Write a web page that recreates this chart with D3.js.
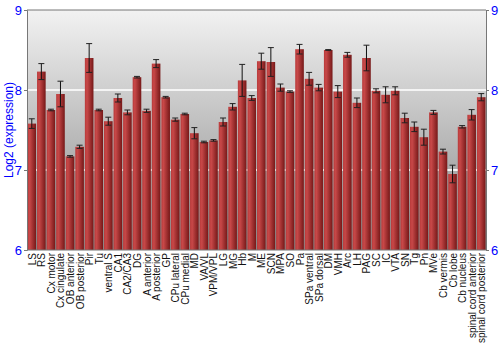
<!DOCTYPE html>
<html>
<head>
<meta charset="utf-8">
<script src="https://cdn.jsdelivr.net/npm/d3@7"></script>
<style>
  body { margin: 0; background: #fff; }
</style>
</head>
<body>
<div id="container"></div>
<script>
let w = 500;
let h = 350;

let regions = ["LS", "RS", "Cx motor", "Cx cingulate", "OB anterior", "OB posterior", "Pir", "Tu",
  "ventral S", "CA1", "CA2/CA3", "DG", "A anterior", "A posterior", "GP", "CPu lateral", "CPu medial",
  "MD", "VA/VL", "VPM/VPL", "LG", "MG", "Hb", "M", "ME", "SCN", "MPA", "SO", "Pa", "SPa ventral",
  "SPa dorsal", "DM", "VMH", "Arc", "LH", "PAG", "SC", "IC", "VTA", "SN", "Tg", "Pn", "MVe",
  "Cb vermis", "Cb lobe", "Cb nucleus", "spinal cord anterior", "spinal cord posterior"];

let expression = [7.58, 8.23, 7.75, 7.95, 7.17, 7.29, 8.40, 7.75,
  7.61, 7.90, 7.72, 8.16, 7.74, 8.33, 7.91, 7.63, 7.70,
  7.46, 7.35, 7.37, 7.60, 7.79, 8.12, 7.90, 8.36, 8.35, 8.03, 7.98, 8.51, 8.14,
  8.03, 8.50, 7.98, 8.44, 7.84, 8.40, 7.99, 7.94, 7.99, 7.65, 7.54, 7.41, 7.72,
  7.23, 6.95, 7.54, 7.69, 7.91];

let errors = [0.06, 0.10, 0.01, 0.16, 0.01, 0.02, 0.18, 0.01,
  0.05, 0.05, 0.03, 0.01, 0.02, 0.05, 0.01, 0.02, 0.01,
  0.07, 0.01, 0.01, 0.05, 0.04, 0.20, 0.03, 0.10, 0.18, 0.045, 0.01, 0.06, 0.08,
  0.04, 0.005, 0.075, 0.03, 0.06, 0.16, 0.025, 0.10, 0.05, 0.06, 0.06, 0.10, 0.025,
  0.03, 0.11, 0.015, 0.065, 0.045];

let yTicks = [6, 7, 8, 9];

let margin = {top: 10, right: 14, bottom: 100, left: 27};

let viz = d3.select("#container").append("svg")
    .attr("width", w)
    .attr("height", h)
    .style("font-family", "Liberation Sans, Arial, sans-serif");

let defs = viz.append("defs");

let bg = defs.append("linearGradient").attr("id", "bg")
    .attr("x1", 0).attr("y1", 0).attr("x2", 0).attr("y2", 1);
bg.append("stop").attr("offset", "0%").attr("stop-color", "#f2f2f2");
bg.append("stop").attr("offset", "100%").attr("stop-color", "#888888");

let barGrad = defs.append("linearGradient").attr("id", "bar")
    .attr("x1", 0).attr("y1", 0).attr("x2", 1).attr("y2", 0);
barGrad.append("stop").attr("offset", "0%").attr("stop-color", "#b83a3a");
barGrad.append("stop").attr("offset", "25%").attr("stop-color", "#c84848");
barGrad.append("stop").attr("offset", "100%").attr("stop-color", "#761818");

let x = d3.scaleBand()
    .domain(regions)
    .range([margin.left, w - margin.right])
    .paddingInner(0.1)
    .paddingOuter(0.05);

let y = d3.scaleLinear()
    .domain([6, 9])
    .range([h - margin.bottom, margin.top]);

// plot background
viz.append("rect")
    .attr("x", margin.left)
    .attr("y", y(9))
    .attr("width", w - margin.right - margin.left)
    .attr("height", y(6) - y(9))
    .attr("fill", "url(#bg)");

// grid lines
viz.selectAll(".grid").data([7, 8]).enter()
  .append("line")
    .attr("class", "grid")
    .attr("x1", margin.left)
    .attr("x2", w - margin.right)
    .attr("y1", d => y(d))
    .attr("y2", d => y(d))
    .attr("stroke", "#f4f4f4")
    .attr("stroke-width", 2);

// bars
viz.selectAll(".bar").data(regions).enter()
  .append("rect")
    .attr("class", "bar")
    .attr("x", d => x(d))
    .attr("width", x.bandwidth())
    .attr("y", (d, i) => y(expression[i]))
    .attr("height", (d, i) => y(6) - y(expression[i]))
    .attr("fill", "url(#bar)");

// error bars
let eb = viz.selectAll(".err").data(regions).enter()
  .append("g")
    .attr("class", "err")
    .attr("transform", d => "translate(" + (x(d) + x.bandwidth() / 2) + ",0)");

eb.append("line")
    .attr("y1", (d, i) => y(expression[i] + errors[i]))
    .attr("y2", (d, i) => y(expression[i] - errors[i]))
    .attr("stroke", "#111")
    .attr("stroke-width", 1);

eb.selectAll(".cap")
    .data((d, i) => [expression[i] + errors[i], expression[i] - errors[i]])
    .enter()
  .append("line")
    .attr("class", "cap")
    .attr("x1", -3).attr("x2", 3)
    .attr("y1", d => y(d))
    .attr("y2", d => y(d))
    .attr("stroke", "#222")
    .attr("stroke-width", 1);

// frame
viz.append("line")
    .attr("x1", margin.left).attr("x2", w - margin.right)
    .attr("y1", y(9)).attr("y2", y(9))
    .attr("stroke", "#777");
viz.append("line")
    .attr("x1", margin.left).attr("x2", w - margin.right)
    .attr("y1", y(6)).attr("y2", y(6))
    .attr("stroke", "#777");

let leftAxis = viz.append("g")
    .attr("transform", "translate(" + margin.left + ",0)")
    .call(d3.axisLeft(y).tickValues(yTicks).tickFormat(d3.format("d")).tickSize(3).tickPadding(2));

let rightAxis = viz.append("g")
    .attr("transform", "translate(" + (w - margin.right) + ",0)")
    .call(d3.axisRight(y).tickValues(yTicks).tickFormat(d3.format("d")).tickSize(3).tickPadding(2));

[leftAxis, rightAxis].forEach(function(a){
  a.select(".domain").attr("stroke", "#777");
  a.selectAll(".tick line").attr("stroke", "#777");
  a.selectAll(".tick text")
    .attr("fill", "#0000ff")
    .style("font-size", "13px")
    .style("font-family", "Liberation Sans, Arial, sans-serif");
});

// y label
viz.append("text")
    .attr("transform", "translate(13," + ((y(6) + y(9)) / 2) + ") rotate(-90)")
    .attr("text-anchor", "middle")
    .attr("fill", "#0000ff")
    .style("font-size", "12px")
    .text("Log2 (expression)");

// x labels
viz.selectAll(".xlab").data(regions).enter()
  .append("text")
    .attr("class", "xlab")
    .attr("transform", d => "translate(" + (x(d) + x.bandwidth() / 2 + 4) + "," + (y(6) + 3) + ") rotate(-90)")
    .attr("text-anchor", "end")
    .attr("fill", "#111")
    .style("font-size", "10px")
    .text(d => d);
</script>
</body>
</html>
